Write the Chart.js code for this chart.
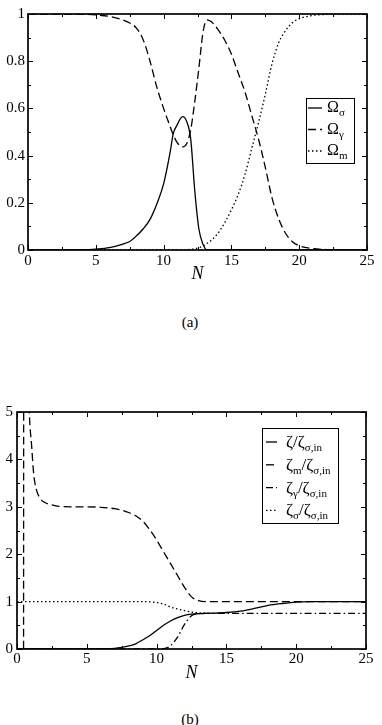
<!DOCTYPE html>
<html>
<head>
<meta charset="utf-8">
<script src="https://cdn.jsdelivr.net/npm/chart.js@4.4.1/dist/chart.umd.min.js"></script>
<style>
body { margin: 0; background: #fff; width: 382px; height: 725px; position: relative; overflow: hidden; font-family: "Liberation Serif", "Times New Roman", serif; }
canvas { position: absolute; left: 0; }
#chartA { top: 0; }
#chartB { top: 380px; }
.cap { position: absolute; left: 0; width: 380px; text-align: center; font-size: 15px; line-height: 17px; }
</style>
</head>
<body>
<canvas id="chartA" width="382" height="300"></canvas>
<div class="cap" style="top:314px">(a)</div>
<canvas id="chartB" width="382" height="310"></canvas>
<div class="cap" style="top:711px">(b)</div>
<script>
// panel (a): density parameters vs N
const nA = [0, 2, 4, 5, 6, 7, 7.5, 8, 8.5, 9, 9.5, 10, 10.5, 10.7, 11, 11.4, 11.7, 12, 12.3, 12.6,
  12.9, 13.2, 13.5, 14, 14.5, 15, 15.5, 16, 16.5, 17, 17.5, 18, 18.5, 19, 19.5, 20, 21, 22, 23, 25];
const omegaSigma = [0, 0, 0.001, 0.004, 0.01, 0.025, 0.036, 0.06, 0.09, 0.13, 0.195, 0.28, 0.42, 0.49, 0.53, 0.565, 0.545, 0.47, 0.25, 0.09,
  0.025, 0, 0, 0, 0, 0, 0, 0, 0, 0, 0, 0, 0, 0, 0, 0, 0, 0, 0, 0];
const omegaGamma = [1, 1, 0.999, 0.996, 0.99, 0.975, 0.962, 0.94, 0.89, 0.8, 0.69, 0.6, 0.52, 0.49, 0.455, 0.437, 0.45, 0.51, 0.63, 0.77,
  0.92, 0.975, 0.968, 0.935, 0.89, 0.83, 0.75, 0.67, 0.57, 0.47, 0.35, 0.22, 0.13, 0.07, 0.035, 0.018, 0.006, 0.002, 0.001, 0];
const omegaM = [0, 0, 0, 0, 0, 0, 0, 0, 0, 0, 0, 0, 0, 0, 0, 0, 0.001, 0.003, 0.006, 0.01,
  0.017, 0.028, 0.04, 0.07, 0.115, 0.17, 0.235, 0.32, 0.43, 0.54, 0.66, 0.79, 0.88, 0.93, 0.963, 0.98, 0.994, 0.998, 1, 1];
const namesA = [[["Ω", 0], ["σ", 1]], [["Ω", 0], ["γ", 1]], [["Ω", 0], ["m", 1]]];
const xTicksA = [0, 5, 10, 15, 20, 25];
const xMinorA = [2.5, 7.5, 12.5, 17.5, 22.5];
const yTicksA = [0, 0.2, 0.4, 0.6, 0.8, 1];
const yMinorA = [0.1, 0.3, 0.5, 0.7, 0.9];

// panel (b): zeta ratios vs N
const nB = [0, 0.47, 0.48, 0.7, 0.88, 1.05, 1.2, 1.4, 1.7, 2, 2.5, 3, 4, 5, 6, 7, 7.5, 8, 8.5, 9,
  9.5, 10, 10.5, 11, 11.5, 12, 12.5, 13, 13.5, 14, 15, 16, 17, 18, 19, 20, 21, 22, 25];
const zeta = [0, 0, 0, 0, 0, 0, 0, 0, 0, 0, 0, 0, 0, 0.001, 0.005, 0.015, 0.035, 0.065, 0.11, 0.19,
  0.28, 0.39, 0.5, 0.59, 0.66, 0.71, 0.735, 0.745, 0.75, 0.755, 0.77, 0.8, 0.855, 0.92, 0.96, 0.99, 1, 1, 1];
const zetaM = [null, -0.5, 5.5, 7, 5, 4.28, 3.68, 3.35, 3.16, 3.09, 3.04, 3.01, 3, 3, 2.99, 2.96, 2.93, 2.88, 2.81, 2.7,
  2.52, 2.3, 2.05, 1.8, 1.55, 1.3, 1.1, 1.02, 1, 1, 1, 1, 1, 1, 1, 1, 1, 1, 1];
const zetaGamma = [0, 0, 0, 0, 0, 0, 0, 0, 0, 0, 0, 0, 0, 0, 0, 0, 0, 0, 0, 0,
  0, 0, 0.005, 0.07, 0.25, 0.52, 0.7, 0.745, 0.75, 0.75, 0.75, 0.75, 0.75, 0.75, 0.75, 0.75, 0.75, 0.75, 0.75];
const zetaSigma = [1, 1, 1, 1, 1, 1, 1, 1, 1, 1, 1, 1, 1, 1, 1, 1, 1, 1, 1, 1,
  0.995, 0.98, 0.95, 0.885, 0.845, 0.81, 0.78, 0.762, 0.752, 0.75, null, null, null, null, null, null, null, null, null];
const namesB = [
  [["ζ/ζ", 0], ["σ,in", 1]],
  [["ζ", 0], ["m", 1], ["/ζ", 0], ["σ,in", 1]],
  [["ζ", 0], ["γ", 1], ["/ζ", 0], ["σ,in", 1]],
  [["ζ", 0], ["σ", 1], ["/ζ", 0], ["σ,in", 1]]
];
const xTicksB = [0, 5, 10, 15, 20, 25];
const xMinorB = [2.5, 7.5, 12.5, 17.5, 22.5];
const yTicksB = [0, 1, 2, 3, 4, 5];
const yMinorB = [0.5, 1.5, 2.5, 3.5, 4.5];

const SERIF = '"Liberation Serif", "Times New Roman", serif';
Chart.defaults.font.family = SERIF;
Chart.defaults.color = "#000";

const SOLID = [];
const DASH = [8, 4];
const DOT = [1.5, 2.5];
const DASHDOT = [7, 3, 1.5, 3];

function pts(xs, ys) {
  return xs.map((x, i) => ({ x: x, y: ys[i] }));
}

function line(label, xs, ys, dash) {
  return {
    label: label,
    data: pts(xs, ys),
    borderColor: "#000",
    borderWidth: 1.3,
    borderDash: dash,
    pointRadius: 0,
    fill: false,
    cubicInterpolationMode: "monotone",
    spanGaps: false
  };
}

// box + inward ticks on all four sides
const framePlugin = {
  id: "frame",
  afterDatasetsDraw(chart, args, o) {
    const { ctx, chartArea: a, scales } = chart;
    ctx.save();
    ctx.strokeStyle = "#000";
    ctx.setLineDash([]);
    ctx.lineWidth = 1;
    const xs = scales.x, ys = scales.y;
    const tickX = (v, len) => {
      const p = Math.round(xs.getPixelForValue(v)) + 0.5;
      ctx.beginPath();
      ctx.moveTo(p, a.bottom); ctx.lineTo(p, a.bottom - len);
      ctx.moveTo(p, a.top); ctx.lineTo(p, a.top + len);
      ctx.stroke();
    };
    const tickY = (v, len) => {
      const p = Math.round(ys.getPixelForValue(v)) + 0.5;
      ctx.beginPath();
      ctx.moveTo(a.left, p); ctx.lineTo(a.left + len, p);
      ctx.moveTo(a.right, p); ctx.lineTo(a.right - len, p);
      ctx.stroke();
    };
    xs.ticks.forEach(t => tickX(t.value, 5));
    o.xMinor.forEach(v => tickX(v, 3));
    ys.ticks.forEach(t => tickY(t.value, 5));
    o.yMinor.forEach(v => tickY(v, 3));
    ctx.lineWidth = 1.7;
    ctx.strokeRect(a.left, a.top, a.right - a.left, a.bottom - a.top);
    ctx.restore();
  }
};

// boxed legend with subscripts
const boxLegendPlugin = {
  id: "boxLegend",
  afterDraw(chart, args, o) {
    const ctx = chart.ctx;
    ctx.save();
    ctx.fillStyle = "#fff";
    ctx.fillRect(o.box[0], o.box[1], o.box[2] - o.box[0], o.box[3] - o.box[1]);
    ctx.strokeStyle = "#000";
    ctx.lineWidth = 1;
    ctx.strokeRect(o.box[0] + 0.5, o.box[1] + 0.5, o.box[2] - o.box[0], o.box[3] - o.box[1]);
    ctx.fillStyle = "#000";
    ctx.textBaseline = "alphabetic";
    chart.data.datasets.forEach((ds, i) => {
      const yy = o.first + i * o.row;
      ctx.setLineDash(ds.borderDash);
      ctx.lineWidth = ds.borderWidth;
      ctx.beginPath();
      ctx.moveTo(o.sample[0], yy);
      ctx.lineTo(o.sample[1], yy);
      ctx.stroke();
      ctx.setLineDash([]);
      let tx = o.textX;
      o.names[i].forEach(([t, sub]) => {
        ctx.font = (sub ? o.subSize : o.mainSize) + "px " + SERIF;
        ctx.fillText(t, tx, yy + (sub ? o.subDy : o.mainDy));
        tx += ctx.measureText(t).width;
      });
    });
    ctx.restore();
  }
};

const tickFont = { family: SERIF, size: 15 };
const fmt = v => String(Math.round(v * 100) / 100);

function makeChart(id, datasets, s) {
  return new Chart(document.getElementById(id), {
    type: "line",
    data: { datasets: datasets },
    plugins: [framePlugin, boxLegendPlugin],
    options: {
      responsive: false,
      animation: false,
      layout: { padding: s.padding },
      plugins: {
        legend: { display: false },
        tooltip: { enabled: false },
        frame: { xMinor: s.xMinor, yMinor: s.yMinor },
        boxLegend: s.legend
      },
      scales: {
        x: {
          type: "linear",
          min: 0,
          max: 25,
          grid: { display: false, drawTicks: false, tickLength: 0 },
          border: { display: false },
          ticks: { font: tickFont, padding: s.xPad, maxRotation: 0, autoSkip: false, callback: fmt },
          afterBuildTicks: sc => { sc.ticks = s.xTicks.map(v => ({ value: v })); },
          afterFit: sc => { sc.height = s.xHeight; sc.paddingLeft = 0; sc.paddingRight = 0; },
          title: { display: true, text: "N", font: { family: SERIF, size: 18, style: "italic" }, padding: 0 }
        },
        y: {
          type: "linear",
          min: s.yTicks[0],
          max: s.yTicks[s.yTicks.length - 1],
          grid: { display: false, drawTicks: false, tickLength: 0 },
          border: { display: false },
          ticks: { font: tickFont, padding: s.yPad, callback: fmt },
          afterBuildTicks: sc => { sc.ticks = s.yTicks.map(v => ({ value: v })); },
          afterFit: sc => { sc.width = s.yWidth; sc.paddingTop = 0; sc.paddingBottom = 0; }
        }
      }
    }
  });
}

makeChart("chartA", [
  line("Ωσ", nA, omegaSigma, SOLID),
  line("Ωγ", nA, omegaGamma, DASH),
  line("Ωm", nA, omegaM, DOT)
], {
  padding: { left: 0, top: 14, right: 15, bottom: 15 },
  xHeight: 35, yWidth: 28, xPad: 2, yPad: 3,
  xTicks: xTicksA, yTicks: yTicksA, xMinor: xMinorA, yMinor: yMinorA,
  legend: {
    box: [306, 98, 354, 163], first: 108, row: 21.5, sample: [308, 322], textX: 327,
    names: namesA, mainSize: 16, subSize: 11, mainDy: 4, subDy: 8
  }
});

makeChart("chartB", [
  line("ζ/ζσ,in", nB, zeta, SOLID),
  line("ζm/ζσ,in", nB, zetaM, DASH),
  line("ζγ/ζσ,in", nB, zetaGamma, DASHDOT),
  line("ζσ/ζσ,in", nB, zetaSigma, DOT)
], {
  padding: { left: 0, top: 32, right: 16, bottom: 6 },
  xHeight: 35, yWidth: 17, xPad: 1, yPad: 4,
  xTicks: xTicksB, yTicks: yTicksB, xMinor: xMinorB, yMinor: yMinorB,
  legend: {
    box: [262, 48, 338, 143], first: 62, row: 22.8, sample: [266, 277], textX: 286,
    names: namesB, mainSize: 17, subSize: 11, mainDy: 5, subDy: 9
  }
});
</script>
</body>
</html>
